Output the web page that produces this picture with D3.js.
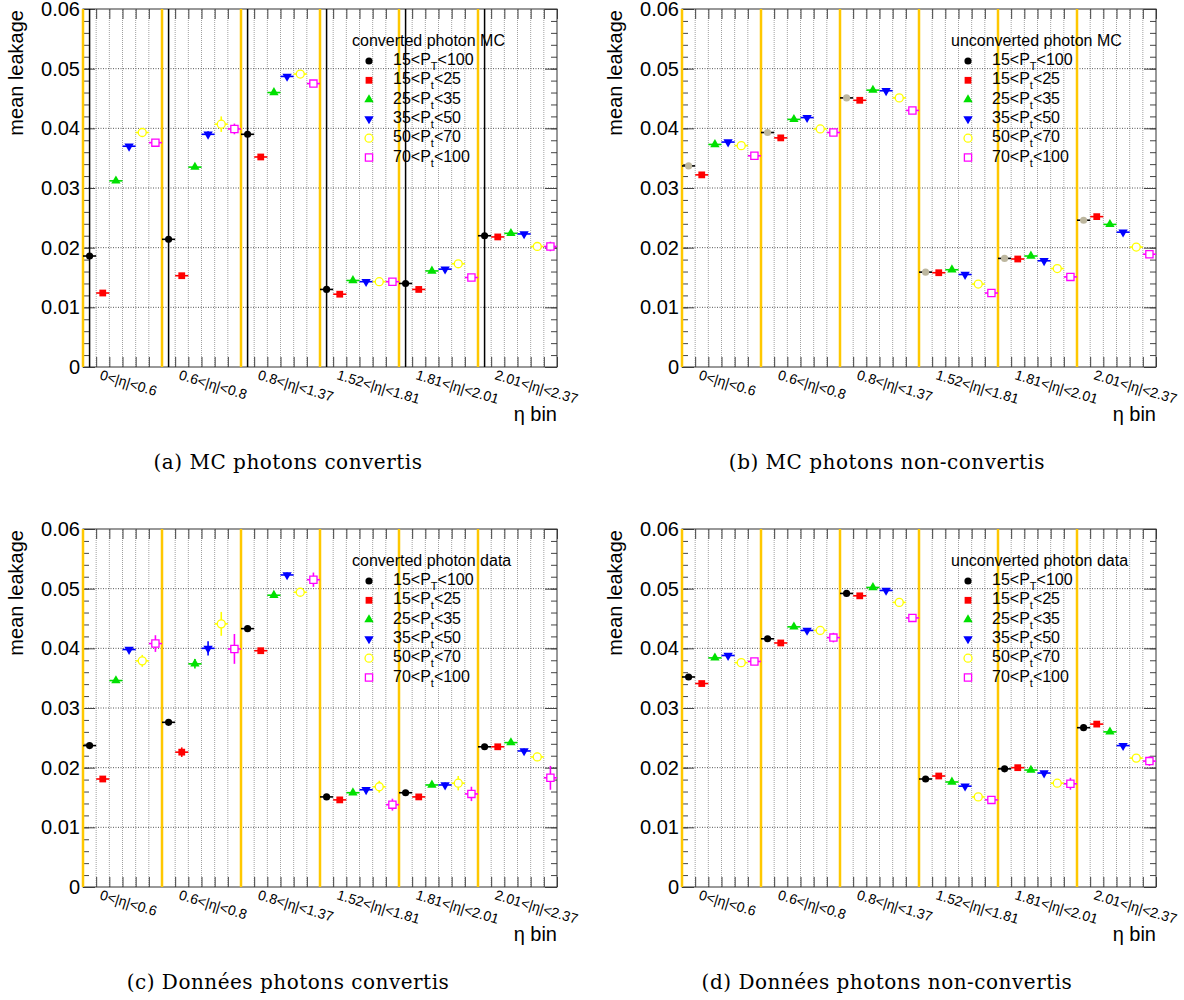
<!DOCTYPE html>
<html>
<head>
<meta charset="utf-8">
<script src="https://cdn.jsdelivr.net/npm/d3@7"></script>
<style>
  body { margin: 0; background: #fff; }
  svg text { font-family: "Liberation Sans", Arial, sans-serif; fill: #000; }
  svg text.caption { font-family: "DejaVu Serif", serif; }
</style>
</head>
<body>
<div id="container"></div>
<script>
// eta sections, 6 pt bins each
const etaBins = ["0<|η|<0.6", "0.6<|η|<0.8", "0.8<|η|<1.37", "1.52<|η|<1.81", "1.81<|η|<2.01", "2.01<|η|<2.37"]
const ptBins = ["15<P_T<100", "15<P_t<25", "25<P_t<35", "35<P_t<50", "50<P_t<70", "70<P_t<100"]
const yMajor = [0, 0.01, 0.02, 0.03, 0.04, 0.05, 0.06]

// values: one row per pt bin, one column per eta section
const mcConverted = [
  [0.0186, 0.0214, 0.0390, 0.0130, 0.0140, 0.0220],
  [0.0124, 0.0153, 0.0352, 0.0122, 0.0130, 0.0218],
  [0.0312, 0.0335, 0.0460, 0.0145, 0.0161, 0.0224],
  [0.0370, 0.0390, 0.0487, 0.0143, 0.0164, 0.0223],
  [0.0393, 0.0407, 0.0491, 0.0143, 0.0173, 0.0202],
  [0.0376, 0.0399, 0.0475, 0.0143, 0.0150, 0.0202]
]
const mcConvertedErr = [
  [0.0002, 0.0002, 0.0002, 0.0002, 0.0002, 0.0002],
  [0.0002, 0.0002, 0.0002, 0.0002, 0.0002, 0.0002],
  [0.0002, 0.0003, 0.0002, 0.0002, 0.0002, 0.0002],
  [0.0003, 0.0005, 0.0002, 0.0002, 0.0002, 0.0002],
  [0.0005, 0.0013, 0.0004, 0.0004, 0.0005, 0.0004],
  [0.0005, 0.0009, 0.0004, 0.0004, 0.0004, 0.0008]
]
const mcUnconverted = [
  [0.0337, 0.0393, 0.0451, 0.0159, 0.0182, 0.0246],
  [0.0322, 0.0384, 0.0447, 0.0158, 0.0181, 0.0252],
  [0.0373, 0.0415, 0.0464, 0.0163, 0.0186, 0.0239],
  [0.0377, 0.0418, 0.0463, 0.0155, 0.0178, 0.0226],
  [0.0371, 0.0399, 0.0451, 0.0139, 0.0165, 0.0201],
  [0.0354, 0.0393, 0.0430, 0.0124, 0.0151, 0.0189]
]
const mcUnconvertedErr = [
  [0.0001, 0.0001, 0.0001, 0.0001, 0.0001, 0.0001],
  [0.0001, 0.0001, 0.0001, 0.0001, 0.0001, 0.0001],
  [0.0001, 0.0001, 0.0001, 0.0001, 0.0001, 0.0001],
  [0.0002, 0.0002, 0.0002, 0.0002, 0.0002, 0.0002],
  [0.0002, 0.0002, 0.0002, 0.0002, 0.0002, 0.0002],
  [0.0002, 0.0002, 0.0002, 0.0002, 0.0002, 0.0002]
]
const dataConverted = [
  [0.0237, 0.0276, 0.0433, 0.0151, 0.0158, 0.0235],
  [0.0181, 0.0226, 0.0396, 0.0146, 0.0151, 0.0235],
  [0.0346, 0.0374, 0.0489, 0.0158, 0.0171, 0.0242],
  [0.0398, 0.0400, 0.0523, 0.0163, 0.0171, 0.0228],
  [0.0379, 0.0441, 0.0494, 0.0168, 0.0174, 0.0218],
  [0.0408, 0.0399, 0.0515, 0.0138, 0.0156, 0.0183]
]
const dataConvertedErr = [
  [0.0003, 0.0003, 0.0003, 0.0002, 0.0002, 0.0002],
  [0.0003, 0.0008, 0.0003, 0.0003, 0.0003, 0.0003],
  [0.0003, 0.0008, 0.0004, 0.0003, 0.0003, 0.0004],
  [0.0004, 0.0012, 0.0004, 0.0004, 0.0004, 0.0004],
  [0.0010, 0.0020, 0.0005, 0.0010, 0.0012, 0.0007],
  [0.0014, 0.0025, 0.0012, 0.0010, 0.0012, 0.0020]
]
const dataUnconverted = [
  [0.0352, 0.0416, 0.0492, 0.0181, 0.0198, 0.0267],
  [0.0341, 0.0409, 0.0488, 0.0186, 0.0200, 0.0273],
  [0.0384, 0.0436, 0.0502, 0.0176, 0.0196, 0.0260],
  [0.0388, 0.0430, 0.0497, 0.0169, 0.0191, 0.0237],
  [0.0376, 0.0430, 0.0477, 0.0151, 0.0174, 0.0216],
  [0.0378, 0.0418, 0.0451, 0.0146, 0.0173, 0.0211]
]
const dataUnconvertedErr = [
  [0.0002, 0.0002, 0.0002, 0.0002, 0.0002, 0.0002],
  [0.0002, 0.0002, 0.0002, 0.0002, 0.0002, 0.0002],
  [0.0002, 0.0002, 0.0002, 0.0002, 0.0002, 0.0002],
  [0.0003, 0.0003, 0.0003, 0.0003, 0.0003, 0.0003],
  [0.0004, 0.0004, 0.0004, 0.0004, 0.0005, 0.0005],
  [0.0005, 0.0008, 0.0006, 0.0005, 0.0010, 0.0008]
]

const legendTitles = ["converted photon MC", "unconverted photon MC", "converted photon data", "unconverted photon data"]
const captions = ["(a) MC photons convertis", "(b) MC photons non-convertis", "(c) Données photons convertis", "(d) Données photons non-convertis"]

// layout
const plotW = 474, plotH = 358
const nBins = etaBins.length * ptBins.length

const seriesColor = ["#000000", "#ff0000", "#00e000", "#0000ff", "#ffff00", "#ff00ff"]
const seriesSymbol = [d3.symbolCircle, d3.symbolSquare, d3.symbolTriangle, d3.symbolTriangle, d3.symbolCircle, d3.symbolSquare]
const seriesSize = [40, 46, 38, 38, 50, 52]
const seriesOpen = [false, false, false, false, true, true]
const yellowLine = "#ffc800"

const panels = [
  { values: mcConverted, errors: mcConvertedErr, left: 83, top: 9, blackLines: true, firstFill: "#000000" },
  { values: mcUnconverted, errors: mcUnconvertedErr, left: 682, top: 9, blackLines: false, firstFill: "#bdb79f" },
  { values: dataConverted, errors: dataConvertedErr, left: 83, top: 529, blackLines: false, firstFill: "#000000" },
  { values: dataUnconverted, errors: dataUnconvertedErr, left: 682, top: 529, blackLines: false, firstFill: "#000000" }
]

const svg = d3.select("#container")
  .append("svg")
  .attr("width", 1184)
  .attr("height", 1000)

function drawMarker(g, s, cx, cy, fill) {
  g.append("path")
    .attr("d", d3.symbol().type(seriesSymbol[s]).size(seriesSize[s])())
    .attr("transform", `translate(${cx},${cy})` + (s === 3 ? " rotate(180)" : ""))
    .attr("fill", seriesOpen[s] ? "#fff" : fill)
    .attr("stroke", seriesOpen[s] ? seriesColor[s] : "none")
    .attr("stroke-width", 1.3)
}

panels.forEach((p, pi) => {
  const g = svg.append("g")

  const xScale = d3.scaleLinear()
    .domain([0, nBins])
    .range([p.left, p.left + plotW])
  const yScale = d3.scaleLinear()
    .domain([0, 0.06])
    .range([p.top + plotH, p.top])

  // grid
  g.append("g").selectAll("line")
    .data(d3.range(1, nBins))
    .join("line")
    .attr("x1", d => xScale(d)).attr("x2", d => xScale(d))
    .attr("y1", yScale(0)).attr("y2", yScale(0.06))
    .attr("stroke", "#a0a0a0")
    .attr("stroke-dasharray", "1,1")
  g.append("g").selectAll("line")
    .data(yMajor.slice(1, -1))
    .join("line")
    .attr("x1", xScale(0)).attr("x2", xScale(nBins))
    .attr("y1", d => yScale(d)).attr("y2", d => yScale(d))
    .attr("stroke", "#555")
    .attr("stroke-dasharray", "1,1.5")

  // axes, ticks inward
  const minor = d3.range(0, 0.0601, 0.002)
  const axes = [
    [d3.axisLeft(yScale).tickValues(yMajor).tickSize(-12).tickPadding(3)
      .tickFormat(d => d === 0 ? "0" : d3.format(".2f")(d)), `translate(${p.left},0)`],
    [d3.axisLeft(yScale).tickValues(minor).tickSize(-6).tickFormat(""), `translate(${p.left},0)`],
    [d3.axisRight(yScale).tickValues(yMajor).tickSize(-12).tickFormat(""), `translate(${p.left + plotW},0)`],
    [d3.axisRight(yScale).tickValues(minor).tickSize(-6).tickFormat(""), `translate(${p.left + plotW},0)`],
    [d3.axisBottom(xScale).tickValues(d3.range(0, nBins + 1)).tickSize(-10).tickFormat(""), `translate(0,${p.top + plotH})`],
    [d3.axisTop(xScale).tickValues(d3.range(0, nBins + 1)).tickSize(-10).tickFormat(""), `translate(0,${p.top})`]
  ]
  axes.forEach(([ax, tr]) => {
    const ag = g.append("g").attr("transform", tr).call(ax.tickSizeOuter(0))
    ag.select(".domain").remove()
    ag.selectAll("line").attr("stroke", "#444")
    ag.selectAll("text")
      .attr("font-size", 20)
      .attr("font-family", "Liberation Sans, Arial, sans-serif")
      .attr("fill", "#000")
  })

  g.append("rect")
    .attr("x", p.left).attr("y", p.top)
    .attr("width", plotW).attr("height", plotH)
    .attr("fill", "none")
    .attr("stroke", "#333")

  // section separators
  etaBins.forEach((e, k) => {
    g.append("line")
      .attr("x1", xScale(k * 6)).attr("x2", xScale(k * 6))
      .attr("y1", yScale(0)).attr("y2", yScale(0.06))
      .attr("stroke", yellowLine)
      .attr("stroke-width", 2.5)
    if (p.blackLines) {
      g.append("line")
        .attr("x1", xScale(k * 6 + 0.5)).attr("x2", xScale(k * 6 + 0.5))
        .attr("y1", yScale(0)).attr("y2", yScale(0.06))
        .attr("stroke", "#000")
        .attr("stroke-width", 1.5)
    }
    g.append("text")
      .attr("transform", `translate(${xScale(k * 6) + 16},${p.top + plotH + 12}) rotate(17)`)
      .attr("font-size", 14)
      .text(e)
  })

  // points
  p.values.forEach((row, s) => {
    row.forEach((v, k) => {
      const bin = k * 6 + s
      const cx = xScale(bin + 0.5), cy = yScale(v)
      const err = p.errors[s][k]
      const col = seriesColor[s]
      g.append("line")
        .attr("x1", xScale(bin)).attr("x2", xScale(bin + 1))
        .attr("y1", cy).attr("y2", cy)
        .attr("stroke", col).attr("stroke-width", 1.6)
      g.append("line")
        .attr("x1", cx).attr("x2", cx)
        .attr("y1", yScale(v - err)).attr("y2", yScale(v + err))
        .attr("stroke", col).attr("stroke-width", 1.6)
      drawMarker(g, s, cx, cy, s === 0 ? p.firstFill : col)
    })
  })

  // legend
  g.append("text")
    .attr("x", p.left + 269).attr("y", p.top + 37)
    .attr("font-size", 16)
    .text(legendTitles[pi])
  ptBins.forEach((lab, s) => {
    const ly = p.top + 52 + s * 19.3
    drawMarker(g, s, p.left + 286, ly, seriesColor[s])
    const parts = lab.split("_")
    const t = g.append("text")
      .attr("x", p.left + 310).attr("y", ly + 4)
      .attr("font-size", 16)
    t.append("tspan").text(parts[0])
    t.append("tspan").attr("dy", 5).attr("font-size", 11).text(parts[1][0])
    t.append("tspan").attr("dy", -5).text(parts[1].slice(1))
  })

  // axis titles
  g.append("text")
    .attr("transform", `translate(${p.left - 60},${p.top + 1}) rotate(-90)`)
    .attr("text-anchor", "end")
    .attr("font-size", 20)
    .text("mean leakage")
  g.append("text")
    .attr("x", p.left + plotW).attr("y", p.top + plotH + 54)
    .attr("text-anchor", "end")
    .attr("font-size", 20)
    .text("η bin")

  // caption
  g.append("text")
    .attr("class", "caption")
    .attr("x", p.left + 205).attr("y", p.top + plotH + 102)
    .attr("text-anchor", "middle")
    .attr("font-size", 20)
    .attr("letter-spacing", 0.5)
    .text(captions[pi])
})
</script>
</body>
</html>
